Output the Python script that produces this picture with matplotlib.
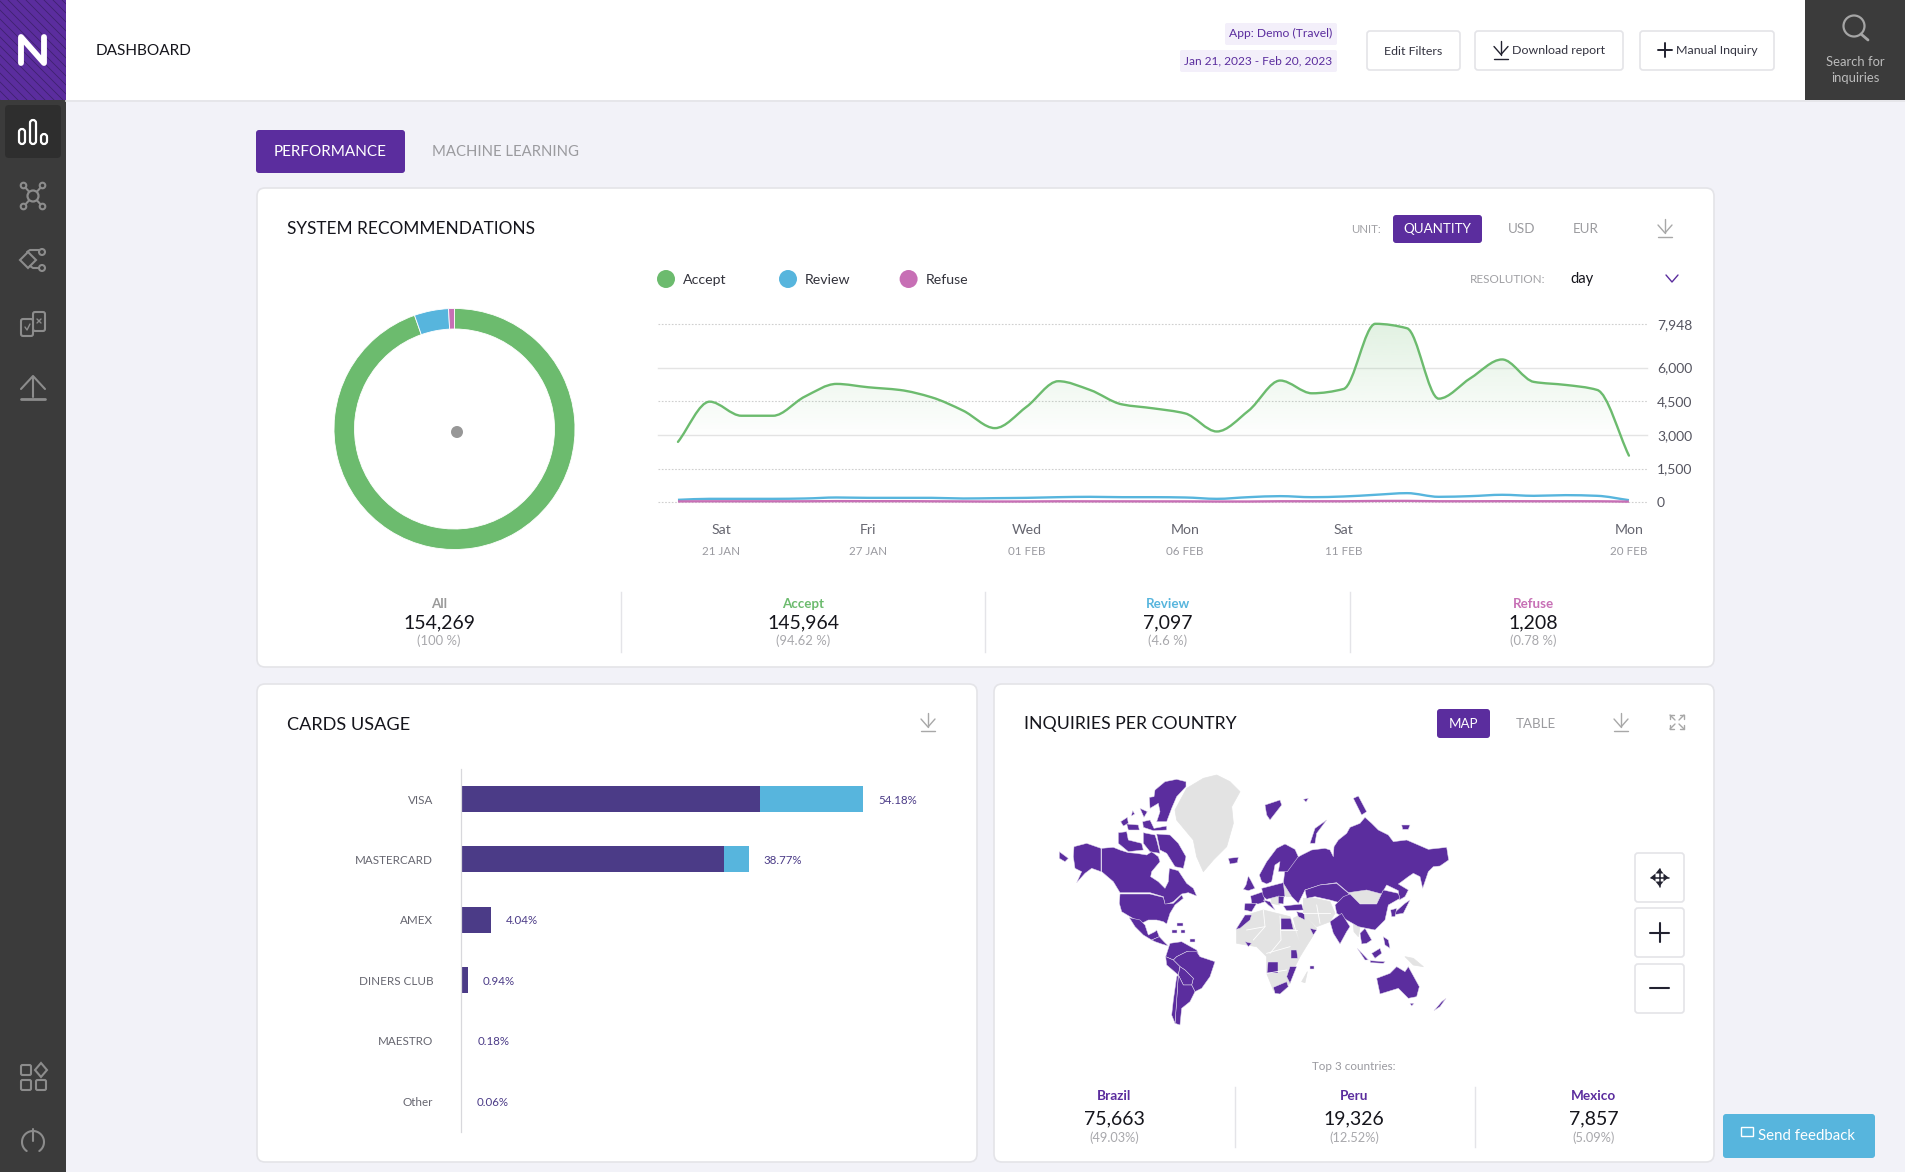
"""Dashboard screenshot rebuilt with matplotlib."""
import numpy as np
import matplotlib
matplotlib.use("Agg")
import matplotlib.pyplot as plt
from matplotlib.patches import FancyBboxPatch, Rectangle, Circle, Polygon, PathPatch
from matplotlib.path import Path

W, H = 1905, 1172
PURPLE = "#5b2d9e"
BAR_PURPLE = "#4b3b87"
BLUE = "#57b5dd"
GREEN = "#6cbb6e"
PINK = "#c76fb5"
DARK = "#3b3b3b"
BG = "#f2f2f8"
BORDER = "#e4e4e8"
INK = "#15151c"

plt.rcParams["font.family"] = ["Lato", "DejaVu Sans"]

# ---- data
days_accept = [2687, 4479, 3852, 3852, 4703, 5270, 5121, 5000, 4673, 4076, 3300,
               4255, 5390, 5000, 4360, 4180, 3956, 3150, 4076, 5420, 4852, 5046,
               7948, 7748, 4613, 5524, 6360, 5360, 5225, 5000, 2075]
days_review = [105, 150, 150, 150, 165, 210, 194, 194, 194, 165, 180, 194, 224, 240,
               224, 224, 210, 150, 224, 270, 224, 255, 330, 403, 240, 270, 330, 284,
               314, 284, 90]
days_refuse = [35, 40, 40, 40, 40, 48, 45, 45, 40, 35, 30, 32, 40, 38, 38, 36, 36, 30,
               30, 42, 42, 42, 55, 58, 42, 42, 45, 42, 42, 40, 25]
y_ticks = [0, 1500, 3000, 4500, 6000, 7948]
y_tick_labels = ["0", "1,500", "3,000", "4,500", "6,000", "7,948"]
tick_days = [1.36, 6, 11, 16, 21, 30]
tick_weekdays = ["Sat", "Fri", "Wed", "Mon", "Sat", "Mon"]
tick_dates = ["21 JAN", "27 JAN", "01 FEB", "06 FEB", "11 FEB", "20 FEB"]

donut_values = [145964, 7097, 1208]
donut_colors = [GREEN, BLUE, PINK]

stat_names = ["All", "Accept", "Review", "Refuse"]
stat_values = ["154,269", "145,964", "7,097", "1,208"]
stat_shares = ["(100 %)", "(94.62 %)", "(4.6 %)", "(0.78 %)"]

card_names = ["VISA", "MASTERCARD", "AMEX", "DINERS CLUB", "MAESTRO", "Other"]
card_first = [40.3, 35.4, 4.04, 0.94, 0.0, 0.0]
card_second = [13.88, 3.37, 0.0, 0.0, 0.18, 0.06]
card_labels = ["54.18%", "38.77%", "4.04%", "0.94%", "0.18%", "0.06%"]

top_names = ["Brazil", "Peru", "Mexico"]
top_values = ["75,663", "19,326", "7,857"]
top_shares = ["(49.03%)", "(12.52%)", "(5.09%)"]

# map outlines, rough, in map units
land_gray = [
    [(610,115),(650,105),(690,125),(720,155),(695,200),(700,250),(680,320),(640,360),(610,395),(590,350),(580,300),(530,240),(525,210),(560,145)],
    [(710,570),(740,525),(790,510),(870,530),(900,610),(940,585),(900,650),(885,680),(870,730),(840,760),(820,750),(800,700),(800,650),(770,620),(710,610)],
    [(905,725),(922,695),(915,728)],
    [(1045,458),(1100,450),(1145,462),(1130,490),(1080,490)],
    [(910,475),(945,475),(990,485),(1005,520),(990,545),(950,560),(910,520)],
    [(880,535),(910,520),(950,565),(930,600),(900,610)],
    [(850,420),(870,440),(890,470),(860,470),(845,455)],
    [(1060,550),(1080,560),(1075,590),(1062,575)],
    [(1215,650),(1240,655),(1270,680),(1240,675)],
    [(812,470),(835,470),(838,495),(815,490)],
]
gray_borders = [
    [(790,510),(795,560),(760,600)],
    [(840,528),(843,600),(810,640)],
    [(740,570),(795,560)],
    [(843,570),(890,570)],
    [(800,640),(870,620)],
    [(800,700),(860,690)],
    [(950,495),(960,550)],
    [(910,520),(990,520)],
]
land_purple = [
    [(305,325),(340,322),(360,330),(385,338),(410,340),(440,345),(455,335),(475,350),(480,365),(455,395),(452,410),(475,425),(495,445),(505,425),(508,385),(535,392),(560,430),(580,445),(590,468),(565,458),(545,462),(520,485),(495,495),(490,470),(450,458),(360,458),(340,425),(305,395)],
    [(360,462),(450,462),(490,472),(495,492),(520,490),(545,465),(550,475),(525,495),(510,520),(500,552),(490,545),(470,540),(445,540),(425,550),(390,530),(365,515),(358,490)],
    [(222,320),(260,310),(303,325),(303,395),(275,385),(255,400),(230,428),(245,395),(225,385),(220,350)],
    [(178,335),(205,355),(195,365),(178,355)],
    [(388,533),(420,540),(435,555),(445,585),(465,575),(470,570),(478,590),(455,600),(430,585),(405,560)],
    [(455,600),(478,590),(492,605),(505,618),(485,612),(465,605)],
    [(510,610),(545,605),(590,630),(595,640),(560,635),(530,650),(520,660),(497,650)],
    [(530,650),(560,635),(590,635),(600,650),(645,665),(630,710),(605,745),(585,755),(575,735),(580,715),(555,690),(540,680),(520,660)],
    [(497,650),(520,660),(540,680),(535,705),(500,675)],
    [(540,680),(555,690),(580,715),(575,735),(550,735),(535,705)],
    [(535,705),(550,735),(575,735),(585,755),(570,785),(545,805),(540,855),(525,850),(530,780)],
    [(530,710),(535,705),(530,780),(525,850),(515,825),(520,780)],
    [(465,150),(495,125),(530,118),(558,125),(558,140),(530,170),(515,205),(500,245),(470,245),(480,215),(475,190),(450,205),(448,172),(462,170)],
    [(470,282),(510,285),(535,310),(558,350),(550,385),(525,380),(500,340),(480,330)],
    [(355,278),(380,275),(385,300),(425,310),(430,330),(385,335),(355,310)],
    [(430,278),(465,285),(470,300),(480,340),(450,335),(430,310)],
    [(362,245),(382,232),(385,250),(370,258)],
    [(380,252),(415,255),(418,270),(385,270)],
    [(428,245),(450,240),(462,265),(500,258),(500,270),(460,272),(430,262)],
    [(420,205),(442,215),(432,232)],
    [(398,212),(404,222),(394,228)],
    [(685,355),(715,352),(712,368),(690,372)],
    [(795,195),(840,180),(845,195),(810,240),(800,225)],
    [(930,310),(945,265),(980,240),(950,280),(945,310)],
    [(1060,175),(1075,168),(1100,215),(1085,225)],
    [(855,385),(870,365),(905,345),(935,330),(975,325),(990,330),(1000,350),(1002,320),(1015,300),(1040,280),(1050,262),(1080,250),(1095,232),(1115,250),(1135,270),(1165,285),(1180,305),(1220,300),(1255,315),(1285,328),(1340,322),(1346,360),(1320,378),(1300,380),(1285,395),(1268,445),(1260,410),(1240,400),(1225,410),(1205,425),(1195,432),(1225,450),(1215,470),(1198,480),(1195,452),(1160,435),(1145,462),(1100,450),(1045,458),(1010,428),(960,435),(915,450),(895,490),(875,470),(850,430)],
    [(778,405),(800,365),(830,325),(855,312),(885,328),(895,350),(862,395),(835,395),(840,365),(825,375),(815,425),(800,432),(785,425)],
    [(745,408),(752,420),(765,445),(745,452),(730,448),(738,435)],
    [(752,468),(790,455),(795,485),(775,492),(755,490)],
    [(735,490),(770,490),(755,515),(733,510)],
    [(785,445),(850,428),(855,470),(830,470),(800,478),(790,470)],
    [(790,480),(810,485),(825,510),(805,495)],
    [(835,468),(852,470),(850,492),(835,490)],
    [(850,498),(905,492),(910,510),(860,512)],
    [(915,450),(960,435),(1010,430),(1048,462),(1025,490),(990,480),(945,470),(920,475)],
    [(1005,495),(1030,470),(1050,462),(1080,492),(1130,492),(1150,450),(1195,460),(1200,475),(1165,495),(1155,540),(1125,570),(1075,560),(1040,540),(1010,520)],
    [(990,545),(1025,520),(1050,560),(1040,575),(1020,612),(1000,580)],
    [(890,515),(912,520),(915,540),(895,530)],
    [(930,565),(950,570),(940,585)],
    [(708,568),(735,525),(755,525),(750,540),(720,565)],
    [(843,535),(872,535),(880,568),(843,568)],
    [(803,665),(835,665),(835,700),(800,700)],
    [(873,630),(890,630),(893,655),(873,655)],
    [(870,680),(890,680),(870,730),(860,710)],
    [(820,742),(860,725),(865,740),(840,762),(825,760)],
    [(735,605),(755,610),(745,620)],
    [(1080,580),(1095,565),(1115,600),(1100,610),(1085,612)],
    [(1072,625),(1105,660),(1095,660)],
    [(1115,640),(1140,625),(1145,640),(1125,655)],
    [(1110,662),(1155,665),(1150,670),(1112,668)],
    [(1150,590),(1165,600),(1170,625),(1155,615)],
    [(1175,525),(1215,490),(1230,480),(1210,520)],
    [(1172,510),(1190,505),(1185,530),(1175,530)],
    [(1130,715),(1170,700),(1190,680),(1215,695),(1225,680),(1258,740),(1250,770),(1225,775),(1195,745),(1140,762)],
    [(1230,790),(1242,790),(1235,798)],
    [(1302,812),(1325,785),(1338,775),(1320,800)],
    [(1205,255),(1230,255),(1225,268),(1208,268)],
    [(910,178),(925,175),(918,186)],
    [(530,548),(548,548),(548,558),(532,558)],
    [(515,570),(532,570),(532,578),(515,578)],
    [(543,570),(556,570),(556,578),(543,578)],
    [(570,597),(584,597),(584,606),(570,606)],
    [(930,677),(942,677),(942,686),(930,686)],
]


def px_axes(x0, y0, x1, y1):
    ax = fig.add_axes([x0 / W, 1 - y1 / H, (x1 - x0) / W, (y1 - y0) / H])
    ax.patch.set_alpha(0)
    return ax


def box(x0, y0, x1, y1, color, edge="none", r=0, lw=1, z=2):
    if r:
        p = FancyBboxPatch((x0 + r, y0 + r), x1 - x0 - 2 * r, y1 - y0 - 2 * r,
                           boxstyle=f"round,pad={r},rounding_size={r}",
                           fc=color, ec=edge, lw=lw, zorder=z)
    else:
        p = Rectangle((x0, y0), x1 - x0, y1 - y0, fc=color, ec=edge, lw=lw, zorder=z)
    bg.add_patch(p)
    return p


def txt(x, y, s, size=10, color=INK, ha="left", weight="normal"):
    # +1.5: matplotlib centres a bit higher than the browser did
    bg.text(x, y + 1.5, s, fontsize=size, color=color, ha=ha, va="center",
            fontweight=weight, zorder=6)


def stroke(xs, ys, color, lw=1.6, z=5):
    bg.plot(xs, ys, color=color, lw=lw, zorder=z, solid_capstyle="round",
            solid_joinstyle="round")


def download_icon(cx, cy, color, s=1.0):
    stroke([cx, cx], [cy - 9 * s, cy + 5 * s], color, 1.0)
    stroke([cx - 7 * s, cx, cx + 7 * s], [cy - 3 * s, cy + 5 * s, cy - 3 * s], color, 1.0)
    stroke([cx - 7 * s, cx + 7 * s], [cy + 9 * s, cy + 9 * s], color, 1.0)


def monotone_path(x, y):
    """Monotone cubic through the points, as bezier path segments."""
    x = np.asarray(x, float)
    y = np.asarray(y, float)
    h = np.diff(x)
    d = np.diff(y) / h
    m = np.zeros_like(y)
    m[0], m[-1] = d[0], d[-1]
    for i in range(1, len(x) - 1):
        if d[i - 1] * d[i] > 0:
            m[i] = 2 * d[i - 1] * d[i] / (d[i - 1] + d[i])
    verts = [(x[0], y[0])]
    codes = [Path.MOVETO]
    for i in range(len(x) - 1):
        verts += [(x[i] + h[i] / 3, y[i] + m[i] * h[i] / 3),
                  (x[i + 1] - h[i] / 3, y[i + 1] - m[i + 1] * h[i] / 3),
                  (x[i + 1], y[i + 1])]
        codes += [Path.CURVE4] * 3
    return verts, codes


fig = plt.figure(figsize=(W / 100, H / 100), dpi=100, facecolor=BG)
bg = fig.add_axes([0, 0, 1, 1])
bg.set_xlim(0, W)
bg.set_ylim(H, 0)
bg.axis("off")

# header and sidebar
box(66, 0, W, 100, "white")
bg.plot([66, W], [100.5, 100.5], color=BORDER, lw=1.2, zorder=3)
box(0, 0, 66, H, DARK)
logo = box(0, 0, 66, 100, PURPLE, z=3)
for off in range(-100, 70, 9):
    hatch_line, = bg.plot([off, off + 100], [0, 100], color="#3f2270", lw=0.6, zorder=3.5)
    hatch_line.set_clip_path(logo)
bg.plot([21, 21, 44, 44], [63, 37, 63, 37], color="white", lw=4.2, zorder=5,
        solid_joinstyle="round", solid_capstyle="round")
box(5, 105, 61, 158, "#2e2e2e", r=4, z=3)

# sidebar icons
for bx, top in ((22, 129), (33, 120), (44, 134)):
    box(bx - 3, top, bx + 3, 144, "#2e2e2e", edge="white", r=3, lw=1.6, z=5)
ICON = "#8c8c8c"
for dx, dy in ((-9.5, -10.5), (9.5, -10.5), (-9.5, 10.5), (9.5, 10.5)):
    stroke([33, 33 + dx], [196, 196 + dy], ICON, 1.5, z=4)
    bg.add_patch(Circle((33 + dx, 196 + dy), 2.8, fc=DARK, ec=ICON, lw=1.5, zorder=5))
bg.add_patch(Circle((33, 196), 5.5, fc=DARK, ec=ICON, lw=1.6, zorder=5))
bg.add_patch(Polygon([(20, 260), (28, 252), (36, 260), (28, 268)], fc=DARK, ec=ICON, lw=1.5, zorder=5))
stroke([27, 30, 39], [252, 250, 250], ICON, 1.5)
stroke([30, 33, 39], [266, 268, 268], ICON, 1.5)
bg.add_patch(Circle((42, 252), 3, fc=DARK, ec=ICON, lw=1.5, zorder=5))
bg.add_patch(Circle((42, 268), 3, fc=DARK, ec=ICON, lw=1.5, zorder=5))
box(33, 312, 45, 331, DARK, edge=ICON, r=2, lw=1.5, z=4)
box(21, 319, 33, 336, DARK, edge=ICON, r=2, lw=1.5, z=5)
stroke([25, 27, 30], [327, 330, 324], ICON, 1)
stroke([37, 41], [319, 323], ICON, 1)
stroke([37, 41], [323, 319], ICON, 1)
stroke([33, 33], [377, 397], ICON, 1.5)
stroke([21, 33, 45], [389, 376, 389], ICON, 1.5)
stroke([21, 45], [399, 399], ICON, 2)
for gx, gy in ((21, 1065), (36, 1080), (21, 1080)):
    box(gx, gy, gx + 10, gy + 10, DARK, edge=ICON, r=1.5, lw=1.5, z=5)
bg.add_patch(Polygon([(41, 1063), (47, 1070), (41, 1077), (35, 1070)], fc=DARK, ec=ICON, lw=1.5, zorder=5))
theta = np.radians(np.arange(-55, 236, 5))
stroke(33 + 11 * np.cos(theta), 1142 - 11 * np.sin(theta), ICON, 1.5)
stroke([33, 33], [1129, 1141], ICON, 1.5)

txt(96, 49.5, "DASHBOARD", 11.1, INK)

# header right side
box(1225, 23, 1337, 45, "#f3effa", r=2)
box(1180, 50, 1337, 72, "#f3effa", r=2)
txt(1332, 32, "App: Demo (Travel)", 8.7, PURPLE, ha="right")
txt(1332, 59, "Jan 21, 2023 - Feb 20, 2023", 8.6, PURPLE, ha="right")
box(1367, 31, 1460, 70, "white", edge=BORDER, r=3, lw=1.2)
box(1475, 31, 1623, 70, "white", edge=BORDER, r=3, lw=1.2)
box(1640, 31, 1774, 70, "white", edge=BORDER, r=3, lw=1.2)
txt(1413, 50, "Edit Filters", 8.9, "#333340", ha="center")
txt(1512, 49, "Download report", 8.9, "#333340")
txt(1676, 49, "Manual Inquiry", 8.9, "#333340")
download_icon(1501, 49.5, "#222230", 1.0)
stroke([1665, 1665], [43, 57], "#222230", 1.4)
stroke([1658, 1672], [50, 50], "#222230", 1.4)
box(1805, 0, W, 100, DARK, z=3)
bg.add_patch(Circle((1854, 26), 10.5, fc="none", ec="#a5a5a5", lw=1.6, zorder=5))
stroke([1861, 1868], [34, 40], "#a5a5a5", 2)
txt(1855, 60, "Search for", 9.4, "#bbbbbb", ha="center")
txt(1855, 77, "inquiries", 9.4, "#bbbbbb", ha="center")

# tabs
box(256, 130, 405, 173, PURPLE, r=3)
txt(330.5, 151, "PERFORMANCE", 11, "white", ha="center")
txt(432, 151, "MACHINE LEARNING", 10.7, "#9b9b9f")

# panels
box(257, 188, 1714, 667, "white", edge=BORDER, r=8, lw=1.2, z=1)
box(257, 684, 977, 1162, "white", edge=BORDER, r=8, lw=1.2, z=1)
box(994, 684, 1714, 1162, "white", edge=BORDER, r=8, lw=1.2, z=1)

txt(287, 228, "SYSTEM RECOMMENDATIONS", 12.4, INK)
txt(287, 723, "CARDS USAGE", 13.1, INK)
txt(1024, 723, "INQUIRIES PER COUNTRY", 12.7, INK)

# unit and resolution controls
txt(1351, 228, "UNIT:", 8.2, "#a0a0a4")
box(1393, 215, 1482, 243, PURPLE, r=3)
txt(1437.5, 227.5, "QUANTITY", 9.6, "white", ha="center")
txt(1522, 227.5, "USD", 9.6, "#9b9b9f", ha="center")
txt(1586, 227.5, "EUR", 9.6, "#9b9b9f", ha="center")
download_icon(1665, 228, "#a8a8a8", 1.0)
txt(1470, 278, "RESOLUTION:", 8.4, "#a0a0a4")
txt(1570, 278, "day", 10.6, INK)
stroke([1666, 1672, 1678], [275, 282, 275], PURPLE, 1)

for cx, name, color in ((666, "Accept", GREEN), (788, "Review", BLUE), (908.6, "Refuse", PINK)):
    bg.add_patch(Circle((cx, 279), 9, fc=color, ec="none", zorder=5))
    txt(cx + 17, 278, name, 10.2, "#33333c")

# donut
donut_ax = px_axes(334, 308.5, 575, 549.5)
donut_ax.pie(donut_values, colors=donut_colors, startangle=90, counterclock=False,
             radius=1, wedgeprops=dict(width=0.17, edgecolor="white", linewidth=0.6))
donut_ax.set_xlim(-1, 1)
donut_ax.set_ylim(-1, 1)
for w in donut_ax.patches:
    w.set_clip_on(False)
bg.add_patch(Circle((457, 432), 6, fc="#979797", ec="none", zorder=4))

# daily line chart
line_ax = px_axes(658, 323.8, 1647, 502.2)
line_ax.axis("off")
line_x = np.arange(len(days_accept))
for tick in y_ticks:
    solid = tick in (3000, 6000)
    line_ax.plot([-0.63, 30.57], [tick, tick], color="#e4e4e4" if solid else "#cfcfcf",
                 lw=1 if solid else 0.8, ls="-" if solid else (0, (1.5, 1.5)),
                 zorder=1, clip_on=False)
verts, codes = monotone_path(line_x, days_accept)
area = Path(verts + [(30, 0), (0, 0), (0, 0)],
            codes + [Path.LINETO, Path.LINETO, Path.CLOSEPOLY])
fade = np.zeros((256, 1, 4))
fade[..., :3] = matplotlib.colors.to_rgb(GREEN)
fade[:, 0, 3] = np.clip(np.linspace(0.2, -0.11, 256), 0, None)
img = line_ax.imshow(fade, extent=(0, 30, 0, 7948), aspect="auto", zorder=2)
clip = PathPatch(area, transform=line_ax.transData, fc="none", ec="none")
line_ax.add_patch(clip)
img.set_clip_path(clip)
line_ax.add_patch(PathPatch(Path(verts, codes), fc="none", ec=GREEN, lw=1.7, zorder=4,
                            capstyle="round", clip_on=False))
for series, color in ((days_review, BLUE), (days_refuse, PINK)):
    v, c = monotone_path(line_x, series)
    line_ax.add_patch(PathPatch(Path(v, c), fc="none", ec=color, lw=1.7, zorder=4,
                                clip_on=False))
line_ax.set_xlim(-0.63, 30.57)
line_ax.set_ylim(0, 7948)
for tick, label in zip(y_ticks, y_tick_labels):
    line_ax.annotate(label, (1, tick), xycoords=("axes fraction", "data"), xytext=(10, -1),
                     textcoords="offset pixels", va="center", fontsize=10, color="#555560")
for day, wd, dt in zip(tick_days, tick_weekdays, tick_dates):
    line_ax.annotate(wd, (day, 0), xytext=(0, -28), textcoords="offset pixels", ha="center",
                     va="center", fontsize=10.2, color="#666670", annotation_clip=False)
    line_ax.annotate(dt, (day, 0), xytext=(0, -49), textcoords="offset pixels", ha="center",
                     va="center", fontsize=8.4, color="#9a9aa0", annotation_clip=False)

# stats row
stat_colors = ["#9a9a9a", GREEN, BLUE, PINK]
for cx, name, val, share, color in zip((439, 803, 1168, 1533), stat_names, stat_values,
                                       stat_shares, stat_colors):
    txt(cx, 602, name, 9.6, color, ha="center", weight="bold")
    txt(cx, 621, val, 14, INK, ha="center")
    txt(cx, 639, share, 9.4, "#a8a8ac", ha="center")
for dx in (621, 985, 1350):
    bg.plot([dx, dx], [592, 652], color=BORDER, lw=1, zorder=3)

# cards bars
download_icon(928, 722, "#a8a8a8", 1.0)
bar_ax = px_axes(461, 769, 950, 1132)
bar_pos = np.arange(len(card_names))
bar_ax.barh(bar_pos, card_first, height=0.43, color=BAR_PURPLE)
bar_ax.barh(bar_pos, card_second, left=card_first, height=0.43, color=BLUE)
bar_ax.set_xlim(0, 65.9)
bar_ax.set_ylim(5.51, -0.497)
bar_ax.set_xticks([])
bar_ax.set_yticks(bar_pos)
bar_ax.set_yticklabels(card_names, fontsize=8.4, color="#666670")
bar_ax.tick_params(axis="y", length=0, pad=20)
for lab in bar_ax.get_yticklabels():
    lab.set_y(lab.get_position()[1])
for side in ("top", "right", "bottom"):
    bar_ax.spines[side].set_visible(False)
bar_ax.spines["left"].set_color("#d8d8dc")
bar_ax.spines["left"].set_linewidth(0.9)
for i, label in enumerate(card_labels):
    bar_ax.annotate(label, (card_first[i] + card_second[i], i), xytext=(15, -1),
                    textcoords="offset pixels", va="center", fontsize=8.3, color=BAR_PURPLE)

# map panel controls
box(1437, 709, 1490, 738, PURPLE, r=3)
txt(1463.5, 722.5, "MAP", 9.6, "white", ha="center")
txt(1536, 722.5, "TABLE", 9.6, "#9b9b9f", ha="center")
download_icon(1621, 722, "#a8a8a8", 1.0)
for sx, sy in ((-1, -1), (1, -1), (-1, 1), (1, 1)):
    stroke([1677 + 7 * sx, 1677 + 2 * sx], [722 + 7 * sy, 722 + 2 * sy], "#a8a8a8", 1)
    stroke([1677 + 7 * sx, 1677 + 3 * sx], [722 + 7 * sy, 722 + 7 * sy], "#a8a8a8", 1)
    stroke([1677 + 7 * sx, 1677 + 7 * sx], [722 + 7 * sy, 722 + 3 * sy], "#a8a8a8", 1)

map_ax = px_axes(1000, 740, 1500, 1060)
map_ax.axis("off")
for shape in land_gray:
    map_ax.add_patch(Polygon(shape, fc="#e3e3e3", ec="#e3e3e3", lw=0.5, joinstyle="round"))
for seg in gray_borders:
    map_ax.plot(*zip(*seg), color="white", lw=0.6)
for shape in land_purple:
    map_ax.add_patch(Polygon(shape, fc=PURPLE, ec="#e2dbee", lw=0.35, joinstyle="round"))
map_ax.set_xlim(0, 1500)
map_ax.set_ylim(960, 0)

for y0, y1 in ((853, 902), (908, 957), (964, 1013)):
    box(1635, y0, 1684, y1, "white", edge=BORDER, r=3, lw=1.2)
for dx, dy in ((-1, 0), (1, 0), (0, -1), (0, 1)):
    stroke([1659.5, 1659.5 + 9 * dx], [877.5, 877.5 + 9 * dy], "#222230", 1.1)
    bg.add_patch(Polygon([(1659.5 + 9 * dx, 877.5 + 9 * dy),
                          (1659.5 + 4 * dx - 4 * dy, 877.5 + 4 * dy + 4 * dx),
                          (1659.5 + 4 * dx + 4 * dy, 877.5 + 4 * dy - 4 * dx)],
                         fc="#222230", ec="none", zorder=5))
stroke([1659.5, 1659.5], [923, 942], "#222230", 1.5)
stroke([1650, 1669], [932.5, 932.5], "#222230", 1.5)
stroke([1650, 1669], [988, 988], "#222230", 1.5)

txt(1354, 1065, "Top 3 countries:", 8.4, "#9a9aa0", ha="center")
for cx, name, val, share in zip((1114, 1354, 1594), top_names, top_values, top_shares):
    txt(cx, 1095, name, 9.8, PURPLE, ha="center", weight="bold")
    txt(cx, 1117, val, 14, INK, ha="center")
    txt(cx, 1136, share, 9.2, "#a8a8ac", ha="center")
for dx in (1234.5, 1475):
    bg.plot([dx, dx], [1087, 1147], color=BORDER, lw=1, zorder=3)

# feedback button
box(1723, 1114, 1875, 1158, BLUE, r=3, z=7)
bg.text(1758, 1136.5, "Send feedback", fontsize=10.8, color="white", va="center", zorder=8)
bg.add_patch(Rectangle((1741, 1127), 12, 9, fc="none", ec="white", lw=1, zorder=8))

fig.savefig("out.png", dpi=100, facecolor=BG)
